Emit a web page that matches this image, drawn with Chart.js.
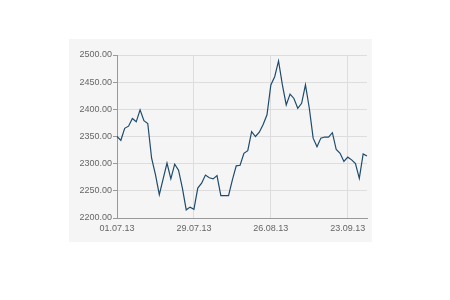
<!DOCTYPE html>
<html>
<head>
<meta charset="utf-8">
<script src="https://cdn.jsdelivr.net/npm/chart.js@4/dist/chart.umd.min.js"></script>
<style>
html,body{margin:0;padding:0;background:#fff;}
#wrap{width:450px;height:300px;}
</style>
</head>
<body>
<div id="wrap"><canvas id="c" width="450" height="300"></canvas></div>
<script>
// Trading days 01.07.13 .. 30.09.13 (weekdays)
const dates = [
 "01.07.13","02.07.13","03.07.13","04.07.13","05.07.13",
 "08.07.13","09.07.13","10.07.13","11.07.13","12.07.13",
 "15.07.13","16.07.13","17.07.13","18.07.13","19.07.13",
 "22.07.13","23.07.13","24.07.13","25.07.13","26.07.13",
 "29.07.13","30.07.13","31.07.13","01.08.13","02.08.13",
 "05.08.13","06.08.13","07.08.13","08.08.13","09.08.13",
 "12.08.13","13.08.13","14.08.13","15.08.13","16.08.13",
 "19.08.13","20.08.13","21.08.13","22.08.13","23.08.13",
 "26.08.13","27.08.13","28.08.13","29.08.13","30.08.13",
 "02.09.13","03.09.13","04.09.13","05.09.13","06.09.13",
 "09.09.13","10.09.13","11.09.13","12.09.13","13.09.13",
 "16.09.13","17.09.13","18.09.13","19.09.13","20.09.13",
 "23.09.13","24.09.13","25.09.13","26.09.13","27.09.13",
 "30.09.13"
];
const values = [
 2350, 2343, 2365, 2369, 2383,
 2377, 2399, 2379, 2374, 2310,
 2280, 2243, 2272, 2301, 2272,
 2299, 2288, 2255, 2215, 2220,
 2216, 2255, 2264, 2279, 2274,
 2272, 2278, 2241, 2241, 2241,
 2270, 2296, 2297, 2319, 2324,
 2359, 2350, 2358, 2372, 2390,
 2445, 2460, 2489, 2445, 2408,
 2428, 2420, 2402, 2411, 2445,
 2402, 2347, 2331, 2347, 2349,
 2349, 2357, 2326, 2319, 2304,
 2312, 2307, 2300, 2273, 2318,
 2314
];
const xTickLabels = ["01.07.13","29.07.13","26.08.13","23.09.13"];
const yMin = 2200, yMax = 2500, yStep = 50;

const panelBg = {
  id: 'panelBg',
  beforeDraw(chart) {
    const ctx = chart.ctx;
    ctx.save();
    ctx.fillStyle = '#f5f5f5';
    ctx.fillRect(69, 39, 303, 203);
    ctx.restore();
  }
};

new Chart(document.getElementById('c'), {
  type: 'line',
  data: {
    labels: dates,
    datasets: [{
      data: values,
      borderColor: '#1e4b6c',
      borderWidth: 1.2,
      pointRadius: 0,
      tension: 0,
      fill: false
    }]
  },
  options: {
    responsive: false,
    animation: false,
    devicePixelRatio: 1,
    layout: { padding: { left: 0, right: 83, top: 55, bottom: 60 } },
    plugins: { legend: { display: false }, tooltip: { enabled: false } },
    scales: {
      x: {
        type: 'category',
        offset: false,
        afterFit(s) { s.height = 22; },
        grid: { color: '#dddddd', lineWidth: 1, tickLength: 0, drawTicks: false },
        border: { color: '#999999' },
        ticks: {
          autoSkip: false, maxRotation: 0, padding: 5,
          color: '#666666',
          font: { family: 'Liberation Sans, Arial, sans-serif', size: 9 },
          callback(v, i) {
            const l = dates[i];
            return xTickLabels.includes(l) ? l : null;
          }
        }
      },
      y: {
        min: yMin, max: yMax,
        afterFit(s) { s.width = 117; },
        grid: { color: '#dddddd', lineWidth: 1, tickLength: 4, tickColor: '#999999' },
        border: { color: '#999999' },
        ticks: {
          stepSize: yStep, padding: 1,
          color: '#666666',
          font: { family: 'Liberation Sans, Arial, sans-serif', size: 9 },
          callback(v) { return Number(v).toFixed(2); }
        }
      }
    }
  },
  plugins: [panelBg]
});
</script>
</body>
</html>
